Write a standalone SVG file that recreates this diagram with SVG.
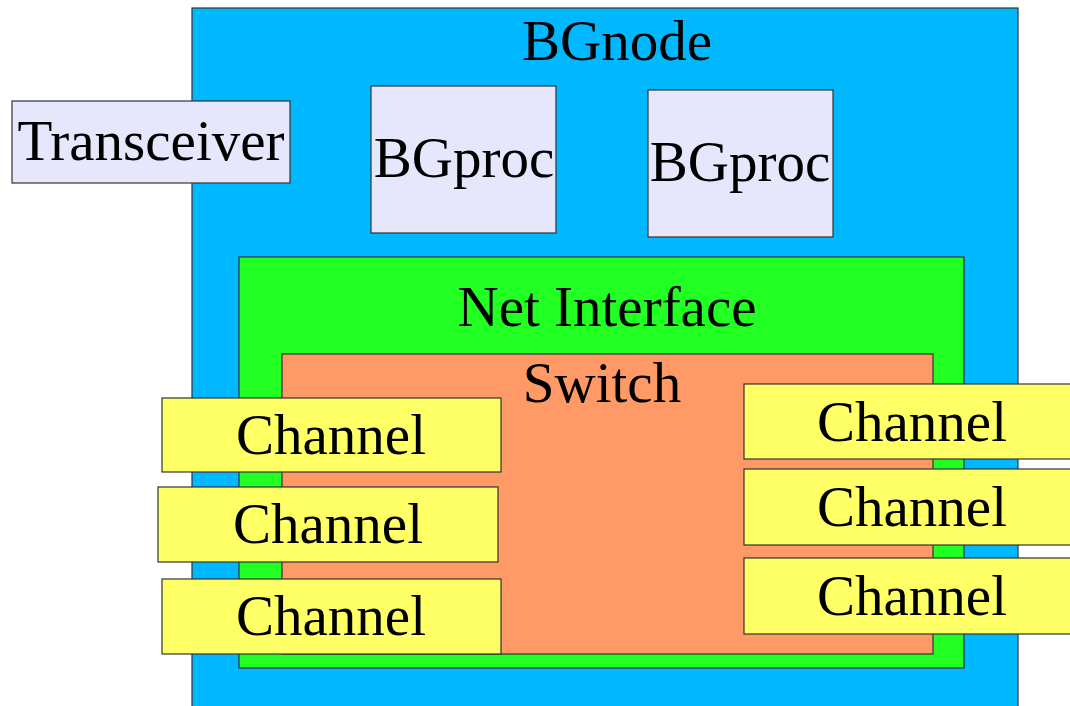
<svg xmlns="http://www.w3.org/2000/svg" width="1070" height="706" viewBox="0 0 1070 706">
  <style>
    .box { stroke: #333333; stroke-width: 1.2; }
    text { font-family: "Liberation Serif", "Times New Roman", serif; font-size: 57px; fill: #000000; text-anchor: middle; }
    .node { fill: #00b8ff; }
    .proc { fill: #e6e6fc; }
    .net { fill: #22ff22; }
    .switch { fill: #ff9966; }
    .chan { fill: #ffff66; }
  </style>
  <rect x="0" y="0" width="1070" height="706" fill="#ffffff"/>

  <g id="bgnode">
    <rect class="box node" x="192" y="8" width="826" height="720"/>
    <text x="617" y="60">BGnode</text>
  </g>

  <g id="transceiver">
    <rect class="box proc" x="12" y="101" width="278" height="82"/>
    <text x="151" y="160">Transceiver</text>
  </g>

  <g id="bgproc-1">
    <rect class="box proc" x="371" y="86" width="185" height="147"/>
    <text x="464" y="177">BGproc</text>
  </g>

  <g id="bgproc-2">
    <rect class="box proc" x="648" y="90" width="185" height="147"/>
    <text x="740" y="181">BGproc</text>
  </g>

  <g id="net-interface">
    <rect class="box net" x="239" y="257" width="725" height="411"/>
    <text x="607" y="326">Net Interface</text>
  </g>

  <g id="switch">
    <rect class="box switch" x="282" y="354" width="651" height="300"/>
    <text x="602" y="402">Switch</text>
  </g>

  <g id="channel-left-1">
    <rect class="box chan" x="162" y="398" width="339" height="74"/>
    <text x="331" y="454">Channel</text>
  </g>
  <g id="channel-left-2">
    <rect class="box chan" x="158" y="487" width="340" height="75"/>
    <text x="328" y="543">Channel</text>
  </g>
  <g id="channel-left-3">
    <rect class="box chan" x="162" y="579" width="339" height="75"/>
    <text x="331" y="635">Channel</text>
  </g>

  <g id="channel-right-1">
    <rect class="box chan" x="744" y="384" width="337" height="75"/>
    <text x="912" y="441">Channel</text>
  </g>
  <g id="channel-right-2">
    <rect class="box chan" x="744" y="469" width="337" height="76"/>
    <text x="912" y="526">Channel</text>
  </g>
  <g id="channel-right-3">
    <rect class="box chan" x="744" y="558" width="337" height="76"/>
    <text x="912" y="615">Channel</text>
  </g>

  <g id="connectors"/>
</svg>
